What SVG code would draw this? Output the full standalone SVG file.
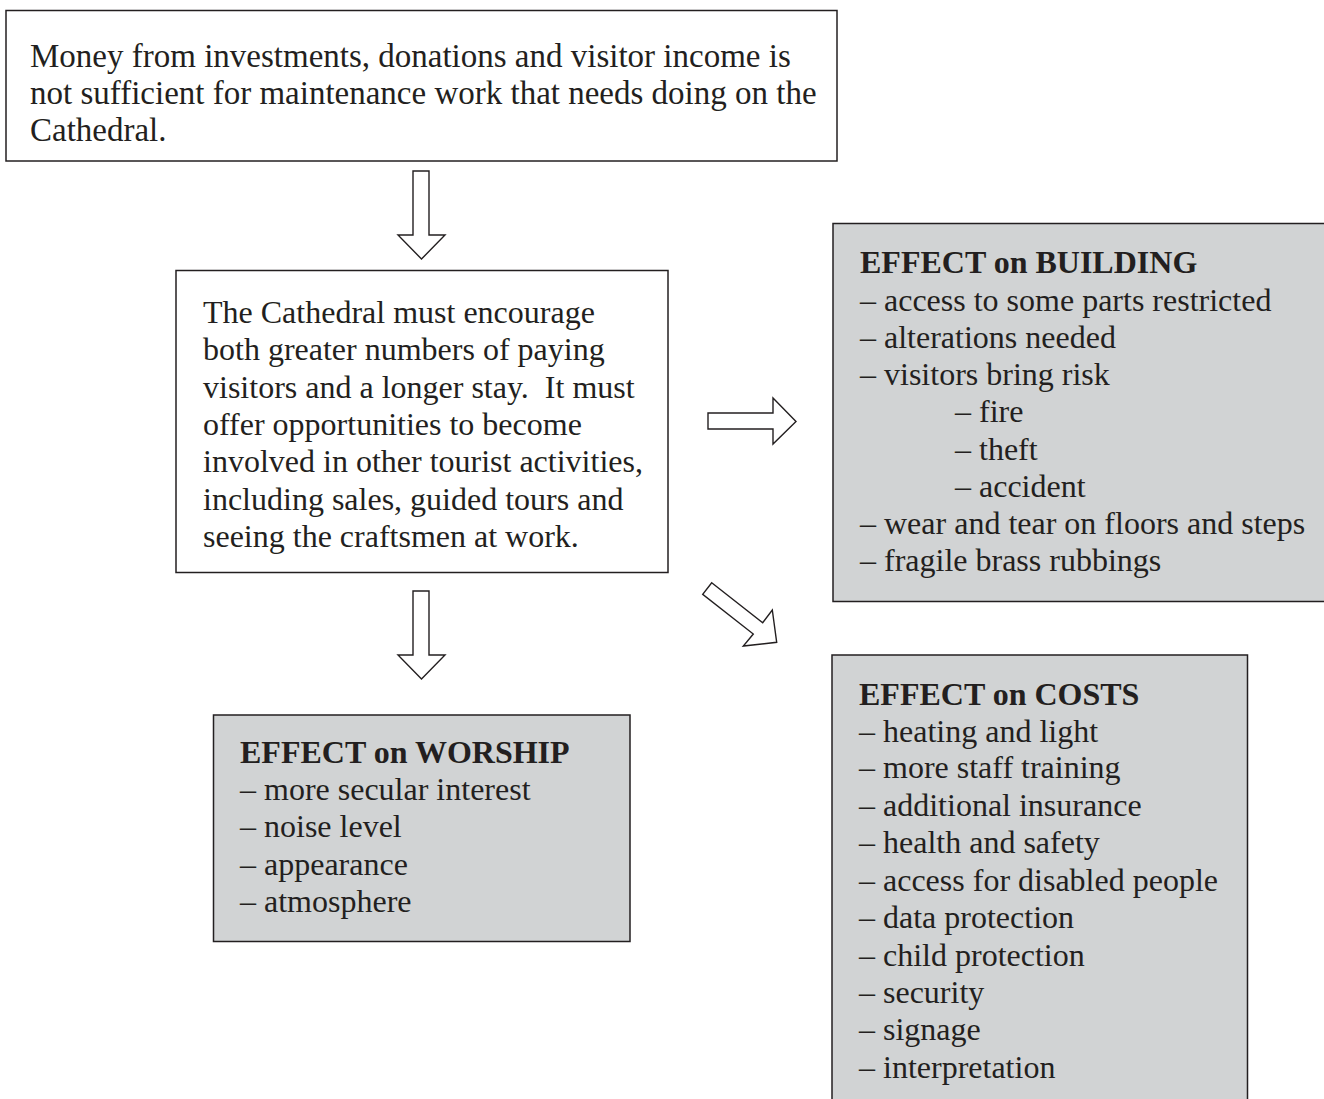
<svg xmlns="http://www.w3.org/2000/svg" width="1324" height="1099" viewBox="0 0 1324 1099">
<style>
  .box { fill: #ffffff; stroke: #231f20; stroke-width: 1.5; }
  .gbox { fill: #d1d3d4; stroke: #231f20; stroke-width: 1.5; }
  .t { font-family: "Liberation Serif", "Times New Roman", serif; font-size: 32px; fill: #231f20; }
  .big { font-size: 33px; }
  .h { font-weight: bold; }
  .arrow { fill: #ffffff; stroke: #231f20; stroke-width: 1.4; stroke-linejoin: miter; }
</style>
<rect width="1324" height="1099" fill="#ffffff"/>

<g id="node-problem">
  <rect class="box" x="6" y="10.5" width="831" height="150.5"/>
  <text class="t big" x="30" y="67">Money from investments, donations and visitor income is</text>
  <text class="t big" x="30" y="104">not sufficient for maintenance work that needs doing on the</text>
  <text class="t big" x="30" y="141">Cathedral.</text>
</g>

<g id="node-strategy">
  <rect class="box" x="176" y="270.5" width="492" height="302"/>
  <text class="t" x="203" y="323">The Cathedral must encourage</text>
  <text class="t" x="203" y="360">both greater numbers of paying</text>
  <text class="t" x="203" y="398" xml:space="preserve">visitors and a longer stay.  It must</text>
  <text class="t" x="203" y="435">offer opportunities to become</text>
  <text class="t" x="203" y="472">involved in other tourist activities,</text>
  <text class="t" x="203" y="510">including sales, guided tours and</text>
  <text class="t" x="203" y="547">seeing the craftsmen at work.</text>
</g>

<g id="node-building">
  <rect class="gbox" x="833" y="223.5" width="500" height="378"/>
  <text class="t h" x="860" y="273">EFFECT on BUILDING</text>
  <text class="t" x="860" y="311">– access to some parts restricted</text>
  <text class="t" x="860" y="348">– alterations needed</text>
  <text class="t" x="860" y="385">– visitors bring risk</text>
  <text class="t" x="955" y="422">– fire</text>
  <text class="t" x="955" y="460">– theft</text>
  <text class="t" x="955" y="497">– accident</text>
  <text class="t" x="860" y="534">– wear and tear on floors and steps</text>
  <text class="t" x="860" y="571">– fragile brass rubbings</text>
</g>

<g id="node-worship">
  <rect class="gbox" x="213.5" y="715" width="416.5" height="226.5"/>
  <text class="t h" x="240" y="763">EFFECT on WORSHIP</text>
  <text class="t" x="240" y="800">– more secular interest</text>
  <text class="t" x="240" y="837">– noise level</text>
  <text class="t" x="240" y="875">– appearance</text>
  <text class="t" x="240" y="912">– atmosphere</text>
</g>

<g id="node-costs">
  <rect class="gbox" x="832" y="655" width="415.5" height="460"/>
  <text class="t h" x="859" y="705">EFFECT on COSTS</text>
  <text class="t" x="859" y="742">– heating and light</text>
  <text class="t" x="859" y="778">– more staff training</text>
  <text class="t" x="859" y="816">– additional insurance</text>
  <text class="t" x="859" y="853">– health and safety</text>
  <text class="t" x="859" y="891">– access for disabled people</text>
  <text class="t" x="859" y="928">– data protection</text>
  <text class="t" x="859" y="966">– child protection</text>
  <text class="t" x="859" y="1003">– security</text>
  <text class="t" x="859" y="1040">– signage</text>
  <text class="t" x="859" y="1078">– interpretation</text>
</g>

<g id="connectors">
  <polygon class="arrow" points="413,171 429,171 429,235 445,235 421.5,259 398,235 413,235"/>
  <polygon class="arrow" points="413,591 429,591 429,655 445,655 421.5,679 398,655 413,655"/>
  <polygon class="arrow" points="708,413 773,413 773,398 796,421.5 773,444 773,429 708,429"/>
  <polygon class="arrow" points="711.7,582.7 762.7,622.7 772.3,610 776.7,642.3 743.3,646 753.3,634 702.7,594.3"/>
</g>
</svg>
